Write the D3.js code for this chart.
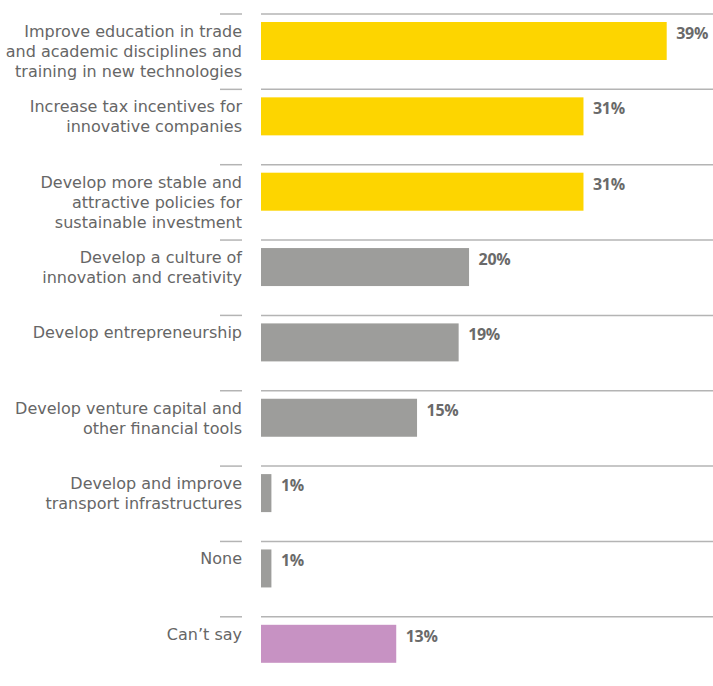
<!DOCTYPE html>
<html>
<head>
<meta charset="utf-8">
<script src="https://cdn.jsdelivr.net/npm/d3@7/dist/d3.min.js"></script>
<style>
  html, body { margin: 0; padding: 0; background: #fff; }
  svg { display: block; }
</style>
</head>
<body>
<div id="chart"></div>
<script>
// Survey answers, one row each (label lines split as printed)
const categories = [
  ["Improve education in trade", "and academic disciplines and", "training in new technologies"],
  ["Increase tax incentives for", "innovative companies"],
  ["Develop more stable and", "attractive policies for", "sustainable investment"],
  ["Develop a culture of", "innovation and creativity"],
  ["Develop entrepreneurship"],
  ["Develop venture capital and", "other financial tools"],
  ["Develop and improve", "transport infrastructures"],
  ["None"],
  ["Can\u2019t say"]
];
const values = [39, 31, 31, 20, 19, 15, 1, 1, 13];
const groups = ["top", "top", "top", "other", "other", "other", "other", "other", "na"];

const colors = { top: "#FDD500", other: "#9D9D9B", na: "#C792C3" };

const width = 713, height = 686;
const labelRight = 242, barLeft = 261;

const svg = d3.select("#chart").append("svg")
  .attr("width", width).attr("height", height);

const ids = categories.map((c, i) => i);
const y = d3.scaleBand().domain(ids).range([14, 14 + 9 * 75.35]).padding(0);
const x = d3.scaleLinear().domain([0, 39]).range([barLeft, 666.7]);

const row = svg.selectAll("g.row").data(ids).enter().append("g")
  .attr("class", "row")
  .attr("transform", i => `translate(0,${y(i)})`);

// separators above each row
row.append("line")
  .attr("x1", 220).attr("x2", labelRight)
  .attr("y1", 0).attr("y2", 0)
  .attr("stroke", "#B4B4B4").attr("stroke-width", 1.5);
row.append("line")
  .attr("x1", barLeft).attr("x2", width)
  .attr("y1", 0).attr("y2", 0)
  .attr("stroke", "#B4B4B4").attr("stroke-width", 1.5);

// bars
row.append("rect")
  .attr("x", x(0))
  .attr("y", 8)
  .attr("width", i => x(values[i]) - x(0))
  .attr("height", 38)
  .attr("fill", i => colors[groups[i]]);

// value labels
row.append("text")
  .attr("x", i => x(values[i]) + 9.5)
  .attr("y", 25)
  .attr("font-family", "'Open Sans', sans-serif")
  .attr("font-weight", 700)
  .attr("font-size", 16)
  .attr("letter-spacing", -0.3)
  .attr("fill", "#6A6A6A")
  .text(i => values[i] + "%");

// category labels
const lab = row.append("text")
  .attr("text-anchor", "end")
  .attr("font-family", "'DejaVu Sans', sans-serif")
  .attr("font-size", 16)
  .attr("fill", "#666666");
lab.selectAll("tspan").data(i => categories[i]).enter().append("tspan")
  .attr("x", labelRight)
  .attr("y", (d, k) => 23 + k * 20)
  .text(d => d);
</script>
</body>
</html>
